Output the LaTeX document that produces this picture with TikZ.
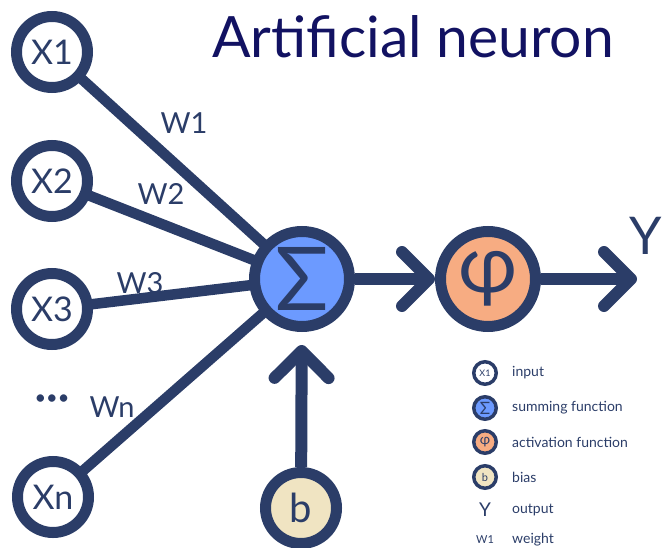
\documentclass[tikz,border=0pt]{standalone}
\usepackage{fontspec}
\setmainfont{Lato}
\usepackage{xcolor}
\usepackage{tikz}
\usetikzlibrary{positioning}
\usetikzlibrary{arrows.meta}
\usetikzlibrary{backgrounds}

\definecolor{ink}{RGB}{43,61,104}
\definecolor{headblue}{RGB}{18,18,98}
\definecolor{sumblue}{RGB}{108,154,255}
\definecolor{actorange}{RGB}{247,172,130}
\definecolor{biascream}{RGB}{240,228,194}

\begin{document}
\begin{tikzpicture}[
    x = 1pt,
    y = -1pt,
    text = ink,
    inputc/.style = {
      circle,
      draw=ink,
      fill=white,
      line width=11pt,
      minimum size=71pt,
      inner sep=0pt,
      font=\fontsize{34}{40}\selectfont
    },
    unitc/.style = {
      circle,
      draw=ink,
      line width=11pt,
      minimum size=95pt,
      inner sep=0pt
    },
    wire/.style = {
      draw=ink,
      line width=10.5pt
    },
    arrow/.style = {
      draw=ink,
      line width=12pt,
      -{Straight Barb[length=27pt,width=54pt,round]}
    },
    wlabel/.style = {
      font=\fontsize{29}{34}\selectfont
    },
    keyc/.style = {
      circle,
      draw=ink,
      line width=3.5pt,
      minimum size=22.5pt,
      inner sep=0pt
    },
    keysym/.style = {
      minimum width=26pt,
      inner sep=0pt,
      outer sep=0pt
    },
    keytext/.style = {
      inner sep=0pt,
      font=\fontsize{14}{16}\selectfont
    }
  ]
    \useasboundingbox (0,0) rectangle (663,548);

    \node[font=\fontsize{57}{63}\selectfont, text=headblue] (head) at (413,37) {Artificial neuron};

    % inputs
    \node[inputc] (x1) at (52,52) {X1};
    \node[inputc] (x2) at (52,181) {X2};
    \node[inputc] (x3) at (52,309) {X3};
    \node[inputc] (xn) at (53,497) {Xn};
    \node[font=\fontsize{20}{24}\selectfont] (dots) at (52,400) {•••};

    % sum, activation, bias
    \node[unitc, fill=sumblue, font=\fontsize{88}{96}\selectfont] (sum) at (302,279) {Σ};
    \node[unitc, fill=actorange, font=\fontsize{80}{90}\selectfont] (act) at (488,279) {φ};
    \node[inputc, fill=biascream, font=\fontsize{40}{46}\selectfont] (bias) at (301,508) {b};

    \begin{pgfonlayer}{background}
      \draw[wire] (x1.center) -- (sum.center);
      \draw[wire] (x2.center) -- (sum.center);
      \draw[wire] (x3.center) -- (sum.center);
      \draw[wire] (xn.center) -- (sum.center);
    \end{pgfonlayer}

    \node[wlabel] (w1) at (184,123) {W1};
    \node[wlabel] (w2) at (161,194) {W2};
    \node[wlabel] (w3) at (140,283) {W3};
    \node[wlabel] (wn) at (112,407) {Wn};

    \draw[arrow] (sum) -- (act);
    \draw[arrow, shorten >=13pt] (bias) -- (sum);

    \coordinate (out) at (637,279);
    \draw[arrow] (act) -- (out);
    \node[font=\fontsize{52}{58}\selectfont] (y) at (646,236) {Y};

    % legend
    \node[keyc, font=\fontsize{9}{10}\selectfont] (key-in) at (485,373) {X1};
    \node[keyc, fill=sumblue, font=\fontsize{17}{18}\selectfont] (key-sum) at (485,408) {Σ};
    \node[keyc, fill=actorange, font=\fontsize{14}{16}\selectfont] (key-act) at (485,442) {φ};
    \node[keyc, fill=biascream, font=\fontsize{11}{12}\selectfont] (key-bias) at (485,477) {b};
    \node[keysym, font=\fontsize{19}{21}\selectfont] (key-out) at (485,510) {Y};
    \node[keysym, font=\fontsize{11}{12}\selectfont] (key-w) at (485,540) {W1};

    \node[keytext] (t-in) [right=14pt of key-in] {input};
    \node[keytext] (t-sum) [right=14pt of key-sum] {summing function};
    \node[keytext] (t-act) [right=14pt of key-act] {activation function};
    \node[keytext] (t-bias) [right=14pt of key-bias] {bias};
    \node[keytext] (t-out) [right=14pt of key-out] {output};
    \node[keytext] (t-w) [right=14pt of key-w] {weight};

  \end{tikzpicture}
\end{document}
